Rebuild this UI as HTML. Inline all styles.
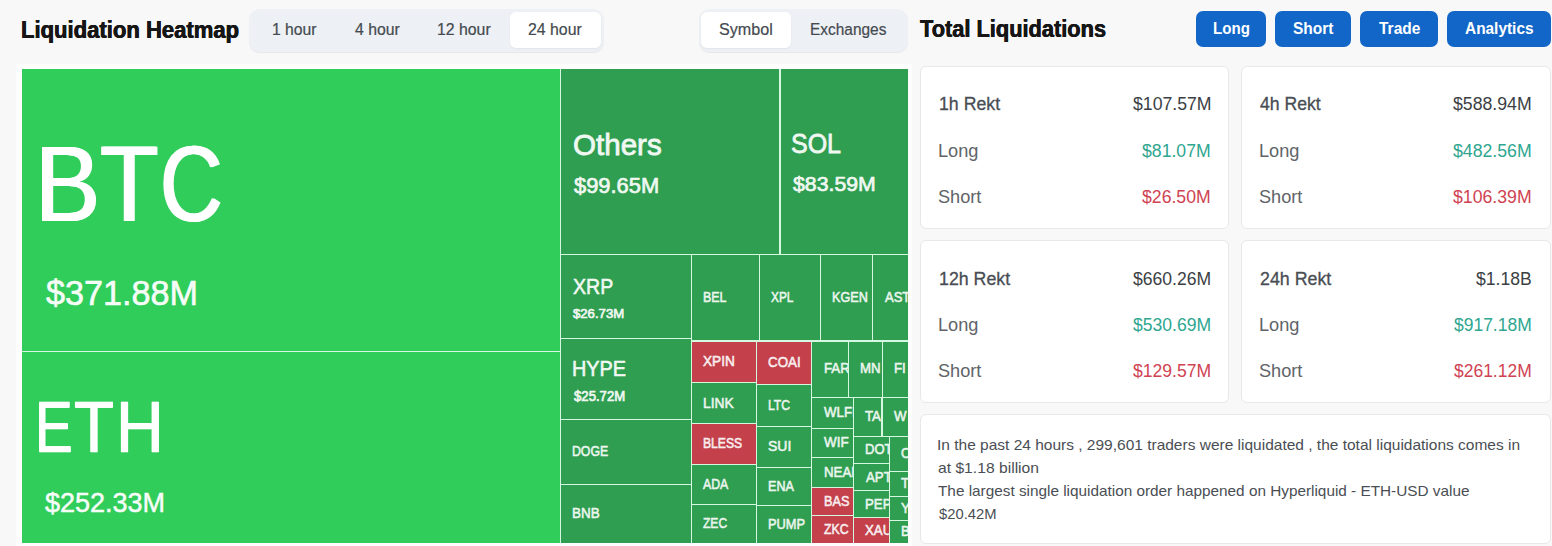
<!DOCTYPE html>
<html><head><meta charset="utf-8"><title>Liquidation Heatmap</title>
<style>
*{box-sizing:border-box;margin:0;padding:0}
html,body{width:1552px;height:546px;overflow:hidden;background:#f8f8f8;font-family:"Liberation Sans",sans-serif}
.t{position:absolute;white-space:nowrap;line-height:1;transform-origin:0 0}
.grp{position:absolute;background:#edf0f4;border-radius:11px;box-shadow:0 1px 1px rgba(0,0,0,0.07)}
.on{position:absolute;background:#fff;border-radius:6px;box-shadow:0 1px 2px rgba(0,0,0,0.05)}
.btn{position:absolute;top:11px;height:36px;background:#1166c8;border-radius:7px}
.tmw{position:absolute;left:16px;top:64px;width:896px;height:482px;background:#fdfdfd}
.tm{position:absolute;left:22px;top:69px;width:886px;height:474px;background:#d6f7e0;overflow:hidden}
.c{position:absolute;overflow:hidden}
.card{position:absolute;background:#fff;border:1px solid #e8e8e8;border-radius:6px}
</style></head><body>
<span class="t" style="left:20.67px;top:16px;line-height:27px;font-size:24.00px;font-weight:700;color:#161616;text-shadow:0.33px 0 0 #161616,-0.33px 0 0 #161616;transform:scaleX(0.9189)">Liquidation Heatmap</span>
<span class="t" style="left:920.33px;top:15px;line-height:27px;font-size:24.00px;font-weight:700;color:#161616;text-shadow:0.33px 0 0 #161616,-0.33px 0 0 #161616;transform:scaleX(0.9082)">Total Liquidations</span>
<div class="grp" style="left:249px;top:9px;width:355px;height:43px"></div>
<div class="on" style="left:510px;top:12px;width:91px;height:36px"></div>
<span class="t" style="left:272.02px;top:20px;line-height:18px;font-size:16.25px;color:#444a50;-webkit-text-stroke:0.2px #444a50;transform:scaleX(0.9669)">1 hour</span>
<span class="t" style="left:354.53px;top:20px;line-height:18px;font-size:16.25px;color:#444a50;-webkit-text-stroke:0.2px #444a50;transform:scaleX(0.9709)">4 hour</span>
<span class="t" style="left:437.11px;top:20px;line-height:18px;font-size:16.25px;color:#444a50;-webkit-text-stroke:0.2px #444a50;transform:scaleX(0.9739)">12 hour</span>
<span class="t" style="left:528.30px;top:20px;line-height:18px;font-size:16.25px;color:#444a50;-webkit-text-stroke:0.2px #444a50;transform:scaleX(0.9758)">24 hour</span>
<div class="grp" style="left:699px;top:9px;width:209px;height:43px"></div>
<div class="on" style="left:701px;top:12px;width:90px;height:36px"></div>
<span class="t" style="left:719.17px;top:20px;line-height:18px;font-size:16.25px;color:#444a50;-webkit-text-stroke:0.2px #444a50;transform:scaleX(0.9923)">Symbol</span>
<span class="t" style="left:809.66px;top:20px;line-height:18px;font-size:16.25px;color:#444a50;-webkit-text-stroke:0.2px #444a50;transform:scaleX(0.9496)">Exchanges</span>
<div class="btn" style="left:1196px;width:70px"></div><span class="t" style="left:1213.02px;top:19px;line-height:18px;font-size:16.50px;font-weight:700;color:#fff;transform:scaleX(0.9163)">Long</span>
<div class="btn" style="left:1275px;width:76px"></div><span class="t" style="left:1293.01px;top:19px;line-height:18px;font-size:16.50px;font-weight:700;color:#fff;transform:scaleX(0.9396)">Short</span>
<div class="btn" style="left:1360px;width:78px"></div><span class="t" style="left:1378.84px;top:19px;line-height:18px;font-size:16.50px;font-weight:700;color:#fff;transform:scaleX(0.9397)">Trade</span>
<div class="btn" style="left:1447px;width:104px"></div><span class="t" style="left:1464.81px;top:19px;line-height:18px;font-size:16.50px;font-weight:700;color:#fff;transform:scaleX(0.9343)">Analytics</span>
<div class="tmw"></div>
<div class="tm">
<div class="c" style="left:0px;top:0px;width:538px;height:282px;background:#31cd5b"><span class="t" style="left:12.98px;top:55px;line-height:120px;font-size:107.00px;color:#fff;text-shadow:0.99px 0 0 #fff,-0.99px 0 0 #fff;transform:scaleX(0.9136)">B</span><span class="t" style="left:78.23px;top:55px;line-height:120px;font-size:107.00px;color:#fff;text-shadow:1.00px 0 0 #fff,-1.00px 0 0 #fff;transform:scaleX(0.8969)">T</span><span class="t" style="left:138.05px;top:55px;line-height:120px;font-size:107.00px;color:#fff;text-shadow:1.11px 0 0 #fff,-1.11px 0 0 #fff;transform:scaleX(0.8124)">C</span><span class="t" style="left:23.95px;top:204px;line-height:39px;font-size:35.25px;color:#fff;-webkit-text-stroke:0.6px #fff;opacity:0.96;transform:scaleX(0.9696)">$371.88M</span></div>
<div class="c" style="left:0px;top:283px;width:538px;height:191px;background:#31cd5b"><span class="t" style="left:12.69px;top:35px;line-height:80px;font-size:72.25px;color:#fff;-webkit-text-stroke:0.5px #fff;text-shadow:0.64px 0 0 #fff,-0.64px 0 0 #fff;transform:scaleX(0.7799)">E</span><span class="t" style="left:52.42px;top:35px;line-height:80px;font-size:72.25px;color:#fff;-webkit-text-stroke:0.5px #fff;text-shadow:0.55px 0 0 #fff,-0.55px 0 0 #fff;transform:scaleX(0.9057)">T</span><span class="t" style="left:94.04px;top:35px;line-height:80px;font-size:72.25px;color:#fff;-webkit-text-stroke:0.5px #fff;text-shadow:0.55px 0 0 #fff,-0.55px 0 0 #fff;transform:scaleX(0.9148)">H</span><span class="t" style="left:23.27px;top:134px;line-height:32px;font-size:28.25px;color:#fff;-webkit-text-stroke:0.5px #fff;opacity:0.96;transform:scaleX(0.9558)">$252.33M</span></div>
<div class="c" style="left:539px;top:0px;width:218px;height:185px;background:#2f9e50"><span class="t" style="left:11.57px;top:60px;line-height:32px;font-size:29.25px;color:#fff;-webkit-text-stroke:0.8px #fff;opacity:0.93;transform:scaleX(1.0103)">Others</span><span class="t" style="left:12.63px;top:104px;line-height:25px;font-size:22.25px;color:#fff;-webkit-text-stroke:0.7px #fff;opacity:0.93;transform:scaleX(0.9841)">$99.65M</span></div>
<div class="c" style="left:759px;top:0px;width:127px;height:185px;background:#2f9e50"><span class="t" style="left:10.44px;top:59px;line-height:31px;font-size:27.75px;color:#fff;-webkit-text-stroke:0.8px #fff;opacity:0.93;transform:scaleX(0.9001)">SOL</span><span class="t" style="left:11.89px;top:103px;line-height:23px;font-size:21.00px;color:#fff;-webkit-text-stroke:0.7px #fff;opacity:0.93;transform:scaleX(1.0130)">$83.59M</span></div>
<div class="c" style="left:539px;top:186px;width:130px;height:83px;background:#2f9e50"><span class="t" style="left:11.98px;top:19px;line-height:25px;font-size:22.00px;color:#fff;-webkit-text-stroke:0.6px #fff;opacity:0.93;transform:scaleX(0.8900)">XRP</span><span class="t" style="left:12.42px;top:51px;line-height:15px;font-size:13.25px;color:#fff;-webkit-text-stroke:0.7px #fff;opacity:0.92;transform:scaleX(0.9919)">$26.73M</span></div>
<div class="c" style="left:539px;top:270px;width:130px;height:80px;background:#2f9e50"><span class="t" style="left:11.28px;top:17px;line-height:25px;font-size:22.00px;color:#fff;-webkit-text-stroke:0.6px #fff;opacity:0.93;transform:scaleX(0.9014)">HYPE</span><span class="t" style="left:12.50px;top:50px;line-height:15px;font-size:13.75px;color:#fff;-webkit-text-stroke:0.7px #fff;opacity:0.92;transform:scaleX(0.9563)">$25.72M</span></div>
<div class="c" style="left:539px;top:351px;width:130px;height:64px;background:#2f9e50"><span class="t" style="left:11.16px;top:23px;line-height:16px;font-size:14.00px;color:#fff;-webkit-text-stroke:0.55px #fff;opacity:0.9;transform:scaleX(0.8778)">DOGE</span></div>
<div class="c" style="left:539px;top:416px;width:130px;height:58px;background:#2f9e50"><span class="t" style="left:11.08px;top:20px;line-height:16px;font-size:14.25px;color:#fff;-webkit-text-stroke:0.55px #fff;opacity:0.9;transform:scaleX(0.9435)">BNB</span></div>
<div class="c" style="left:670px;top:186px;width:67px;height:85px;background:#2f9e50"><span class="t" style="left:10.85px;top:34px;line-height:16px;font-size:14.25px;color:#fff;-webkit-text-stroke:0.55px #fff;opacity:0.9;transform:scaleX(0.8721)">BEL</span></div>
<div class="c" style="left:738px;top:186px;width:60px;height:85px;background:#2f9e50"><span class="t" style="left:11.29px;top:34px;line-height:16px;font-size:14.25px;color:#fff;-webkit-text-stroke:0.55px #fff;opacity:0.9;transform:scaleX(0.8330)">XPL</span></div>
<div class="c" style="left:799px;top:186px;width:51px;height:85px;background:#2f9e50"><span class="t" style="left:10.84px;top:34px;line-height:16px;font-size:14.00px;color:#fff;-webkit-text-stroke:0.55px #fff;opacity:0.9;transform:scaleX(0.9026)">KGEN</span></div>
<div class="c" style="left:851px;top:186px;width:35px;height:85px;background:#2f9e50"><span class="t" style="left:12.06px;top:34px;line-height:16px;font-size:14.00px;color:#fff;-webkit-text-stroke:0.55px #fff;opacity:0.9;transform:scaleX(0.9300)">AST</span></div>
<div class="c" style="left:670px;top:273px;width:64px;height:40px;background:#c4414c"><span class="t" style="left:11.19px;top:11px;line-height:16px;font-size:14.25px;color:#fff;-webkit-text-stroke:0.55px #fff;opacity:0.9;transform:scaleX(0.9599)">XPIN</span></div>
<div class="c" style="left:735px;top:273px;width:54px;height:42px;background:#c4414c"><span class="t" style="left:10.79px;top:12px;line-height:16px;font-size:14.00px;color:#fff;-webkit-text-stroke:0.55px #fff;opacity:0.9;transform:scaleX(0.9537)">COAI</span></div>
<div class="c" style="left:670px;top:314px;width:64px;height:40px;background:#2f9e50"><span class="t" style="left:10.76px;top:12px;line-height:16px;font-size:14.25px;color:#fff;-webkit-text-stroke:0.55px #fff;opacity:0.9;transform:scaleX(0.9686)">LINK</span></div>
<div class="c" style="left:735px;top:316px;width:54px;height:41px;background:#2f9e50"><span class="t" style="left:10.87px;top:12px;line-height:16px;font-size:14.00px;color:#fff;-webkit-text-stroke:0.55px #fff;opacity:0.9;transform:scaleX(0.8665)">LTC</span></div>
<div class="c" style="left:670px;top:355px;width:64px;height:40px;background:#c4414c"><span class="t" style="left:10.87px;top:11px;line-height:16px;font-size:14.00px;color:#fff;-webkit-text-stroke:0.55px #fff;opacity:0.9;transform:scaleX(0.8669)">BLESS</span></div>
<div class="c" style="left:735px;top:358px;width:54px;height:40px;background:#2f9e50"><span class="t" style="left:10.85px;top:11px;line-height:16px;font-size:14.00px;color:#fff;-webkit-text-stroke:0.55px #fff;opacity:0.9;transform:scaleX(0.9982)">SUI</span></div>
<div class="c" style="left:670px;top:396px;width:64px;height:39px;background:#2f9e50"><span class="t" style="left:11.44px;top:11px;line-height:16px;font-size:14.25px;color:#fff;-webkit-text-stroke:0.55px #fff;opacity:0.9;transform:scaleX(0.8614)">ADA</span></div>
<div class="c" style="left:735px;top:399px;width:54px;height:37px;background:#2f9e50"><span class="t" style="left:10.84px;top:10px;line-height:16px;font-size:14.25px;color:#fff;-webkit-text-stroke:0.55px #fff;opacity:0.9;transform:scaleX(0.8817)">ENA</span></div>
<div class="c" style="left:670px;top:436px;width:64px;height:38px;background:#2f9e50"><span class="t" style="left:11.08px;top:10px;line-height:16px;font-size:14.00px;color:#fff;-webkit-text-stroke:0.55px #fff;opacity:0.9;transform:scaleX(0.8611)">ZEC</span></div>
<div class="c" style="left:735px;top:437px;width:54px;height:37px;background:#2f9e50"><span class="t" style="left:10.82px;top:10px;line-height:16px;font-size:14.25px;color:#fff;-webkit-text-stroke:0.55px #fff;opacity:0.9;transform:scaleX(0.9018)">PUMP</span></div>
<div class="c" style="left:790px;top:273px;width:36px;height:55px;background:#2f9e50"><span class="t" style="left:11.50px;top:18px;line-height:16px;font-size:14.25px;color:#fff;-webkit-text-stroke:0.55px #fff;opacity:0.9;transform:scaleX(0.9300)">FAR</span></div>
<div class="c" style="left:827px;top:273px;width:33px;height:55px;background:#2f9e50"><span class="t" style="left:10.80px;top:18px;line-height:16px;font-size:14.25px;color:#fff;-webkit-text-stroke:0.55px #fff;opacity:0.9;transform:scaleX(0.9300)">MN</span></div>
<div class="c" style="left:861px;top:273px;width:25px;height:55px;background:#2f9e50"><span class="t" style="left:10.80px;top:18px;line-height:16px;font-size:14.25px;color:#fff;-webkit-text-stroke:0.55px #fff;opacity:0.9;transform:scaleX(0.9300)">FI</span></div>
<div class="c" style="left:790px;top:329px;width:41px;height:30px;background:#2f9e50"><span class="t" style="left:12.26px;top:6px;line-height:16px;font-size:14.25px;color:#fff;-webkit-text-stroke:0.55px #fff;opacity:0.9;transform:scaleX(0.9300)">WLFI</span></div>
<div class="c" style="left:832px;top:329px;width:27px;height:38px;background:#2f9e50"><span class="t" style="left:11.29px;top:10px;line-height:16px;font-size:14.25px;color:#fff;-webkit-text-stroke:0.55px #fff;opacity:0.9;transform:scaleX(0.9300)">TA</span></div>
<div class="c" style="left:861px;top:329px;width:25px;height:38px;background:#2f9e50"><span class="t" style="left:11.46px;top:10px;line-height:16px;font-size:14.25px;color:#fff;-webkit-text-stroke:0.55px #fff;opacity:0.9;transform:scaleX(0.9300)">W</span></div>
<div class="c" style="left:790px;top:360px;width:41px;height:28px;background:#2f9e50"><span class="t" style="left:12.26px;top:5px;line-height:16px;font-size:14.25px;color:#fff;-webkit-text-stroke:0.55px #fff;opacity:0.9;transform:scaleX(0.9415)">WIF</span></div>
<div class="c" style="left:832px;top:368px;width:35px;height:26px;background:#2f9e50"><span class="t" style="left:10.51px;top:4px;line-height:16px;font-size:14.00px;color:#fff;-webkit-text-stroke:0.55px #fff;opacity:0.9;transform:scaleX(0.9300)">DOT</span></div>
<div class="c" style="left:868px;top:368px;width:18px;height:34px;background:#2f9e50"><span class="t" style="left:10.87px;top:8px;line-height:16px;font-size:14.00px;color:#fff;-webkit-text-stroke:0.55px #fff;opacity:0.9;transform:scaleX(0.9300)">O</span></div>
<div class="c" style="left:790px;top:389px;width:41px;height:29px;background:#2f9e50"><span class="t" style="left:11.50px;top:6px;line-height:16px;font-size:14.25px;color:#fff;-webkit-text-stroke:0.55px #fff;opacity:0.9;transform:scaleX(0.9300)">NEAR</span></div>
<div class="c" style="left:832px;top:395px;width:35px;height:26px;background:#2f9e50"><span class="t" style="left:11.56px;top:5px;line-height:16px;font-size:14.25px;color:#fff;-webkit-text-stroke:0.55px #fff;opacity:0.9;transform:scaleX(0.9300)">APT</span></div>
<div class="c" style="left:868px;top:403px;width:18px;height:24px;background:#2f9e50"><span class="t" style="left:11.19px;top:3px;line-height:16px;font-size:14.25px;color:#fff;-webkit-text-stroke:0.55px #fff;opacity:0.9;transform:scaleX(0.9300)">T</span></div>
<div class="c" style="left:790px;top:419px;width:41px;height:27px;background:#c4414c"><span class="t" style="left:11.54px;top:5px;line-height:16px;font-size:14.00px;color:#fff;-webkit-text-stroke:0.55px #fff;opacity:0.9;transform:scaleX(0.9044)">BAS</span></div>
<div class="c" style="left:832px;top:422px;width:35px;height:26px;background:#2f9e50"><span class="t" style="left:10.80px;top:5px;line-height:16px;font-size:14.25px;color:#fff;-webkit-text-stroke:0.55px #fff;opacity:0.9;transform:scaleX(0.9300)">PEP</span></div>
<div class="c" style="left:868px;top:428px;width:18px;height:23px;background:#2f9e50"><span class="t" style="left:10.89px;top:3px;line-height:16px;font-size:14.25px;color:#fff;-webkit-text-stroke:0.55px #fff;opacity:0.9;transform:scaleX(0.9300)">Y</span></div>
<div class="c" style="left:790px;top:447px;width:41px;height:27px;background:#c4414c"><span class="t" style="left:11.87px;top:5px;line-height:16px;font-size:14.00px;color:#fff;-webkit-text-stroke:0.55px #fff;opacity:0.9;transform:scaleX(0.8755)">ZKC</span></div>
<div class="c" style="left:832px;top:449px;width:35px;height:25px;background:#c4414c"><span class="t" style="left:11.29px;top:4px;line-height:16px;font-size:14.25px;color:#fff;-webkit-text-stroke:0.55px #fff;opacity:0.9;transform:scaleX(0.9300)">XAU</span></div>
<div class="c" style="left:868px;top:452px;width:18px;height:22px;background:#2f9e50"><span class="t" style="left:11.20px;top:2px;line-height:16px;font-size:14.25px;color:#fff;-webkit-text-stroke:0.55px #fff;opacity:0.9;transform:scaleX(0.9300)">B</span></div>
</div>
<div class="card" style="left:920px;top:66px;width:309px;height:163px"></div>
<span class="t" style="left:938.82px;top:94px;line-height:20px;font-size:18.00px;color:#484d53;-webkit-text-stroke:0.3px #484d53;transform:scaleX(0.9843)">1h Rekt</span><span class="t" style="left:1132.57px;top:93px;line-height:21px;font-size:18.75px;color:#3b3f44;transform:scaleX(0.9419)">$107.57M</span><span class="t" style="left:938.05px;top:140px;line-height:21px;font-size:18.50px;color:#606468;transform:scaleX(0.9826)">Long</span><span class="t" style="left:1142.42px;top:140px;line-height:21px;font-size:18.25px;color:#2ea690;transform:scaleX(0.9670)">$81.07M</span><span class="t" style="left:938.28px;top:186px;line-height:21px;font-size:18.50px;color:#606468;transform:scaleX(0.9818)">Short</span><span class="t" style="left:1142.42px;top:186px;line-height:21px;font-size:18.50px;color:#cf4352;transform:scaleX(0.9539)">$26.50M</span>
<div class="card" style="left:1241px;top:66px;width:310px;height:163px"></div>
<span class="t" style="left:1260.19px;top:94px;line-height:20px;font-size:18.00px;color:#484d53;-webkit-text-stroke:0.3px #484d53;transform:scaleX(0.9782)">4h Rekt</span><span class="t" style="left:1453.42px;top:93px;line-height:21px;font-size:18.75px;color:#3b3f44;transform:scaleX(0.9437)">$588.94M</span><span class="t" style="left:1259.05px;top:140px;line-height:21px;font-size:18.50px;color:#606468;transform:scaleX(0.9826)">Long</span><span class="t" style="left:1453.42px;top:140px;line-height:21px;font-size:18.25px;color:#2ea690;transform:scaleX(0.9696)">$482.56M</span><span class="t" style="left:1259.28px;top:186px;line-height:21px;font-size:18.50px;color:#606468;transform:scaleX(0.9818)">Short</span><span class="t" style="left:1453.42px;top:186px;line-height:21px;font-size:18.50px;color:#cf4352;transform:scaleX(0.9565)">$106.39M</span>
<div class="card" style="left:920px;top:240px;width:309px;height:163px"></div>
<span class="t" style="left:938.82px;top:269px;line-height:20px;font-size:18.00px;color:#484d53;-webkit-text-stroke:0.3px #484d53;transform:scaleX(0.9866)">12h Rekt</span><span class="t" style="left:1132.92px;top:268px;line-height:21px;font-size:18.75px;color:#3b3f44;transform:scaleX(0.9376)">$660.26M</span><span class="t" style="left:938.05px;top:314px;line-height:21px;font-size:18.50px;color:#606468;transform:scaleX(0.9826)">Long</span><span class="t" style="left:1132.92px;top:314px;line-height:21px;font-size:18.25px;color:#2ea690;transform:scaleX(0.9633)">$530.69M</span><span class="t" style="left:938.28px;top:360px;line-height:21px;font-size:18.50px;color:#606468;transform:scaleX(0.9818)">Short</span><span class="t" style="left:1132.92px;top:360px;line-height:21px;font-size:18.50px;color:#cf4352;transform:scaleX(0.9503)">$129.57M</span>
<div class="card" style="left:1241px;top:240px;width:310px;height:163px"></div>
<span class="t" style="left:1259.66px;top:269px;line-height:20px;font-size:18.00px;color:#484d53;-webkit-text-stroke:0.3px #484d53;transform:scaleX(0.9888)">24h Rekt</span><span class="t" style="left:1475.82px;top:268px;line-height:21px;font-size:18.75px;color:#3b3f44;transform:scaleX(0.9389)">$1.18B</span><span class="t" style="left:1259.05px;top:314px;line-height:21px;font-size:18.50px;color:#606468;transform:scaleX(0.9826)">Long</span><span class="t" style="left:1454.43px;top:314px;line-height:21px;font-size:18.25px;color:#2ea690;transform:scaleX(0.9570)">$917.18M</span><span class="t" style="left:1259.28px;top:360px;line-height:21px;font-size:18.50px;color:#606468;transform:scaleX(0.9818)">Short</span><span class="t" style="left:1454.43px;top:360px;line-height:21px;font-size:18.50px;color:#cf4352;transform:scaleX(0.9441)">$261.12M</span>
<div class="card" style="left:920px;top:414px;width:631px;height:130px"></div>
<span class="t" style="left:937.36px;top:436px;line-height:17px;font-size:15.00px;color:#4a4e54;transform:scaleX(1.0329)">In the past 24 hours , 299,601 traders were liquidated , the total liquidations comes in</span>
<span class="t" style="left:938.12px;top:459px;line-height:17px;font-size:15.00px;color:#4a4e54;transform:scaleX(1.0441)">at $1.18 billion</span>
<span class="t" style="left:938.44px;top:482px;line-height:17px;font-size:15.00px;color:#4a4e54;transform:scaleX(1.0214)">The largest single liquidation order happened on Hyperliquid - ETH-USD value</span>
<span class="t" style="left:938.60px;top:505px;line-height:17px;font-size:15.00px;color:#4a4e54;transform:scaleX(0.9850)">$20.42M</span>
</body></html>
